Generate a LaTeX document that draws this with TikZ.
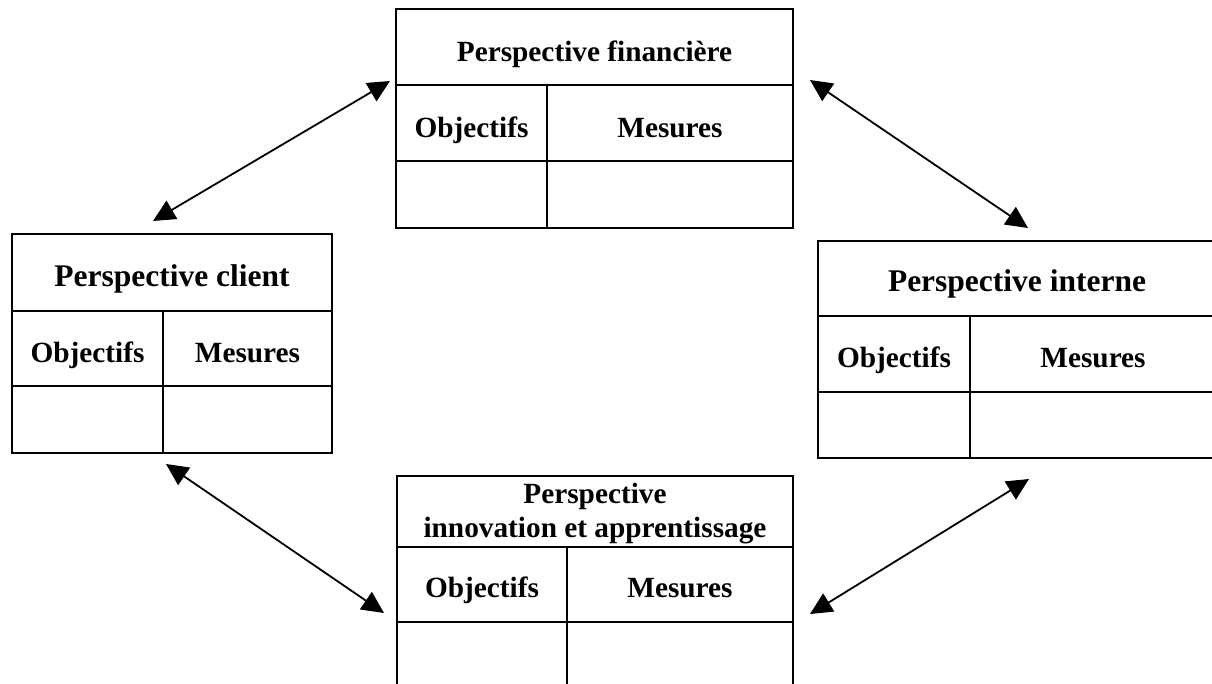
\documentclass[tikz,border=0pt]{standalone}
\usepackage{fontspec}
\setmainfont{Liberation Serif}
\usetikzlibrary{arrows.meta}
\tikzset{
  grid/.style={draw=black, line width=1.3pt},
  cell/.style={anchor=base, inner sep=0pt, font=\fontsize{29.3}{33}\selectfont\bfseries},
  bigcell/.style={anchor=base, inner sep=0pt, font=\fontsize{31.5}{35}\selectfont\bfseries},
  link/.style={line width=1.8pt, {Triangle[length=22pt,width=21pt]}-{Triangle[length=22pt,width=21pt]}}
}
\begin{document}
\begin{tikzpicture}[x=1pt,y=-1pt]
\useasboundingbox (0,0) rectangle (1212,684);
\clip (0,0) rectangle (1212,684);

% Perspective financiere (top)
\draw[grid] (396,9) rectangle (793,228);
\draw[grid] (396,85) -- (793,85) (396,161) -- (793,161) (547,85) -- (547,228);
\node[cell] (finT) at (594.5,62) {Perspective financière};
\node[cell] (finO) at (471.5,138) {Objectifs};
\node[cell] (finM) at (670,138) {Mesures};

% Perspective client (left)
\draw[grid] (12,234) rectangle (332,453);
\draw[grid] (12,311) -- (332,311) (12,386) -- (332,386) (163,311) -- (163,453);
\node[bigcell] (cliT) at (172,287) {Perspective client};
\node[cell] (cliO) at (87.5,362) {Objectifs};
\node[cell] (cliM) at (247.5,362) {Mesures};

% Perspective interne (right)
\draw[grid] (818,241) rectangle (1218,458);
\draw[grid] (818,316) -- (1218,316) (818,392) -- (1218,392) (970,316) -- (970,458);
\node[bigcell] (intT) at (1017,292) {Perspective interne};
\node[cell] (intO) at (894,367) {Objectifs};
\node[cell] (intM) at (1093,367) {Mesures};

% Perspective innovation et apprentissage (bottom)
\draw[grid] (397,476) rectangle (793,700);
\draw[grid] (397,547) -- (793,547) (397,622) -- (793,622) (567,547) -- (567,700);
\node[cell] (innT1) at (595,503) {Perspective};
\node[cell] (innT2) at (595,537) {innovation et apprentissage};
\node[cell] (innO) at (482,597) {Objectifs};
\node[cell] (innM) at (680,597) {Mesures};

% arrow end points
\coordinate (a1) at (153,221);
\coordinate (a2) at (390,81);
\coordinate (b1) at (810,80);
\coordinate (b2) at (1028,228);
\coordinate (c1) at (166,464);
\coordinate (c2) at (384,613);
\coordinate (d1) at (810,614);
\coordinate (d2) at (1029,479);

\draw[link] (a1) -- (a2);
\draw[link] (b1) -- (b2);
\draw[link] (c1) -- (c2);
\draw[link] (d1) -- (d2);
\end{tikzpicture}
\end{document}
